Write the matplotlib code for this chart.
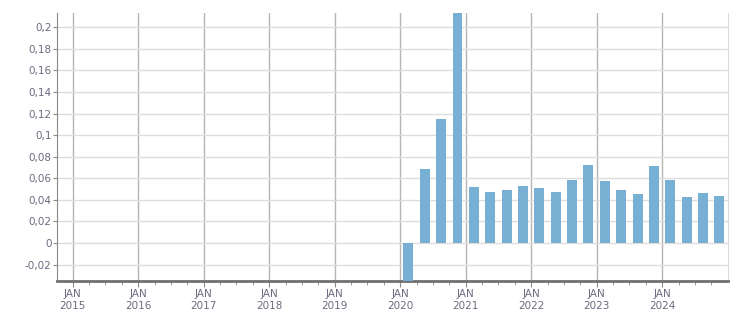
import matplotlib.pyplot as plt
from matplotlib.ticker import FixedLocator, FuncFormatter

# quarterly values, 2020 Q1 .. 2024 Q4
years = [2020] * 4 + [2021] * 4 + [2022] * 4 + [2023] * 4 + [2024] * 4
quarters = [1, 2, 3, 4] * 5
values = [-0.036, 0.0685, 0.1148, 0.22,
          0.0519, 0.0472, 0.049, 0.0528,
          0.051, 0.047, 0.0583, 0.0722,
          0.0574, 0.049, 0.0454, 0.0713,
          0.0583, 0.0426, 0.0463, 0.0435]
tick_years = list(range(2015, 2025))
y_ticks = [-0.02, 0, 0.02, 0.04, 0.06, 0.08, 0.1, 0.12, 0.14, 0.16, 0.18, 0.2]

BAR = "#77b0d3"
TXT = "#6b6b80"


def main() -> None:
    fig = plt.figure(figsize=(7.51, 3.13), dpi=100)
    ax = fig.add_axes([0.0759, 0.102, 0.893, 0.856])

    # bar centred on the middle of each quarter
    x = [y + (q - 1) * 0.25 + 0.125 for y, q in zip(years, quarters)]
    ax.bar(x, values, width=0.152, color=BAR, zorder=3)

    ax.set_xlim(2014.76, 2025.0)
    ax.set_ylim(-0.0352, 0.213)

    ax.yaxis.set_major_locator(FixedLocator(y_ticks))
    ax.yaxis.set_major_formatter(
        FuncFormatter(lambda v, _: f"{v:g}".replace(".", ",").replace("-0,", "-0,")))
    ax.set_xticks(tick_years)
    ax.set_xticklabels([f"JAN\n{y}" for y in tick_years])
    ax.set_xticks([y + q * 0.25 for y in range(2014, 2025) for q in range(4)
                   if 2014.76 < y + q * 0.25 < 2025.0 and q != 0], minor=True)

    ax.grid(axis="y", color="#dddddd", linewidth=1, zorder=0)
    ax.grid(axis="x", which="major", color="#b4b4b4", linewidth=1, zorder=1)

    for side in ["top"]:
        ax.spines[side].set_visible(False)
    ax.spines["right"].set_color("#dddddd")
    ax.spines["left"].set_color("#8a8a8a")
    ax.spines["bottom"].set_color("#707070")
    ax.spines["bottom"].set_linewidth(2)

    ax.tick_params(axis="y", length=3, color="#8a8a8a", labelsize=7.5,
                   labelcolor=TXT, pad=1)
    ax.tick_params(axis="x", which="major", length=4, color="#8a8a8a",
                   labelsize=7.5, labelcolor=TXT, pad=2)
    ax.tick_params(axis="x", which="minor", length=3, color="#8a8a8a")

    fig.savefig("out.png", dpi=100)


if __name__ == "__main__":
    main()
